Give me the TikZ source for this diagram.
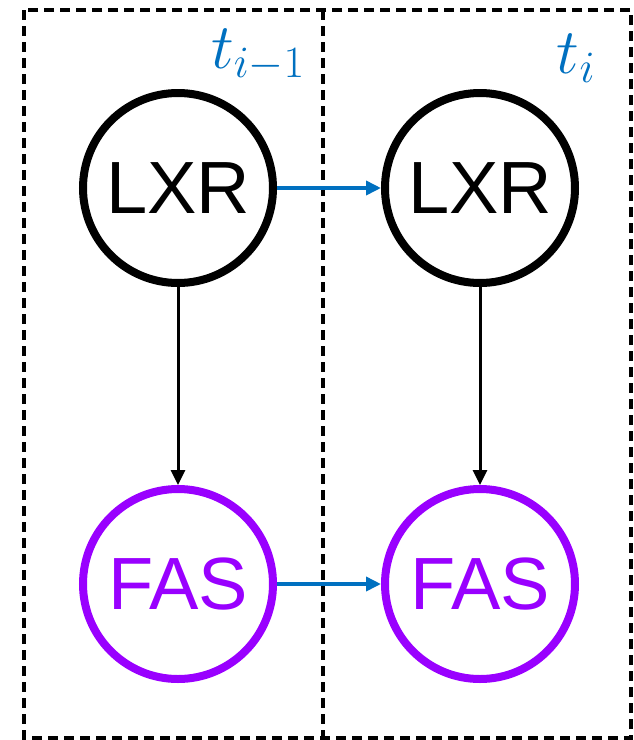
\documentclass[tikz,border=0pt]{standalone}
\usepackage{fix-cm}
\usepackage{fontspec}
\setmainfont{Liberation Sans}
\usetikzlibrary{arrows.meta}
\definecolor{stepblue}{HTML}{0070C0}
\definecolor{faspurple}{HTML}{9900FF}
\tikzset{
  slice/.style={draw=black, line width=3.4pt, dash pattern=on 10pt off 6pt},
  state/.style={circle, draw, line width=8pt, minimum size=190pt, inner sep=0pt,
    font=\fontsize{74}{80}\selectfont},
  lxr/.style={state, draw=black, text=black},
  fas/.style={state, draw=faspurple, text=faspurple},
  causal/.style={draw=black, line width=3pt, -{Triangle[length=15pt,width=14pt]}},
  temporal/.style={draw=stepblue, line width=3.6pt, -{Triangle[length=15pt,width=14pt]}},
  timelabel/.style={text=stepblue, anchor=base, inner sep=0pt, font=\fontsize{64}{72}\selectfont}
}
\begin{document}
\begin{tikzpicture}[x=1pt, y=-1pt]
  \useasboundingbox (0,0) rectangle (634,740);
  % time slices
  \draw[slice] (24,10) rectangle (631,738);
  \draw[slice] (323,10) -- (323,738);
  % slice labels
  \node[timelabel] (lprev) at (258,68) {$t_{i-1}$};
  \node[timelabel] (lcur) at (576,73) {$t_{i}$};
  % variables
  \node[lxr] (lxr1) at (178,188) {LXR};
  \node[lxr] (lxr2) at (480,188) {LXR};
  \node[fas] (fas1) at (178,584) {FAS};
  \node[fas] (fas2) at (480,584) {FAS};
  % dependencies
  \draw[causal] (lxr1) -- (fas1);
  \draw[causal] (lxr2) -- (fas2);
  \draw[temporal] (lxr1) -- (lxr2);
  \draw[temporal] (fas1) -- (fas2);
\end{tikzpicture}
\end{document}
